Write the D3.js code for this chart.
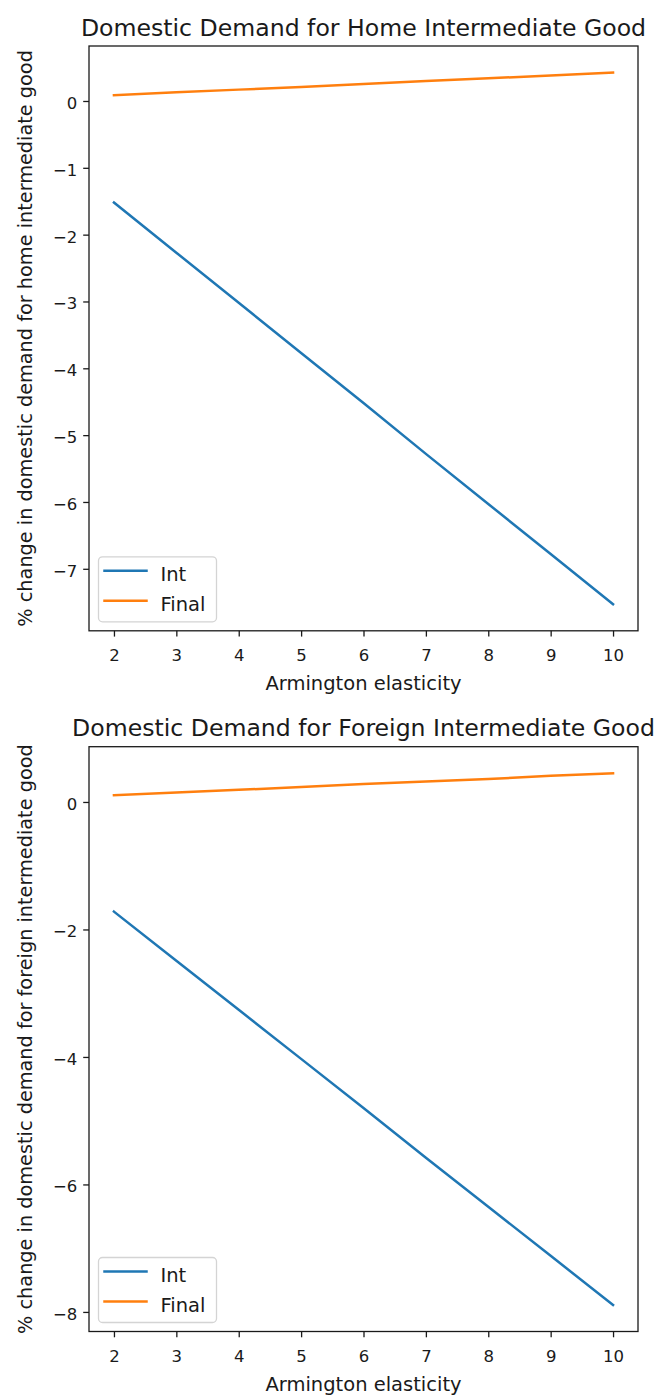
<!DOCTYPE html>
<html>
<head>
<meta charset="utf-8">
<script src="https://cdn.jsdelivr.net/npm/d3@7"></script>
<style>
  html, body { margin: 0; padding: 0; background: #fff; }
  svg { display: block; }
  text { font-family: "DejaVu Sans", sans-serif; fill: #1a1a1a; }
</style>
</head>
<body>
<svg id="fig" width="657" height="1396"></svg>
<script>
// Armington elasticity values on the horizontal axis
const elasticity = [2, 3, 4, 5, 6, 7, 8, 9, 10];

// % change in domestic demand for the home intermediate good
const homeInt   = [-1.52, -2.27, -3.02, -3.77, -4.52, -5.28, -6.03, -6.78, -7.53];
const homeFinal = [0.085, 0.13, 0.17, 0.21, 0.255, 0.30, 0.34, 0.38, 0.425];

// % change in domestic demand for the foreign intermediate good
const foreignInt   = [-1.72, -2.49, -3.26, -4.03, -4.80, -5.58, -6.35, -7.12, -7.89];
const foreignFinal = [0.106, 0.15, 0.19, 0.235, 0.28, 0.32, 0.36, 0.41, 0.45];

// tick labels
const xTicks = [2, 3, 4, 5, 6, 7, 8, 9, 10];
const homeYTicks = [-7, -6, -5, -4, -3, -2, -1, 0];
const foreignYTicks = [-8, -6, -4, -2, 0];

const seriesNames = ["Int", "Final"];
const seriesColors = ["#1f77b4", "#ff7f0e"];

const svg = d3.select("#fig");
svg.append("rect").attr("width", 657).attr("height", 1396).attr("fill", "#fff");

// 5% padding on each side of the data range, as an autoscaled axis would have
function padded(lo, hi) {
  const m = (hi - lo) * 0.05;
  return [lo - m, hi + m];
}

function drawPanel(opts) {
  const left = 89, right = 638;
  const top = opts.top, bottom = opts.top + 584.8;
  const g = svg.append("g");

  const x = d3.scaleLinear()
    .domain(padded(d3.min(elasticity), d3.max(elasticity)))
    .range([left, right]);
  const allY = opts.series.flat();
  const y = d3.scaleLinear()
    .domain(padded(d3.min(allY), d3.max(allY)))
    .range([bottom, top]);

  // x axis ticks and labels
  const xa = g.append("g").attr("transform", `translate(0,${bottom})`)
    .call(d3.axisBottom(x).tickValues(xTicks).tickFormat(d3.format("d"))
      .tickSize(5.8).tickPadding(5.8));
  xa.select(".domain").remove();
  xa.selectAll(".tick line").attr("stroke", "#1a1a1a").attr("stroke-width", 1.3);
  xa.selectAll(".tick text").attr("font-size", 16.5).attr("fill", "#1a1a1a")
    .attr("dy", null).attr("y", 30.5);

  // y axis ticks and labels
  const ya = g.append("g").attr("transform", `translate(${left},0)`)
    .call(d3.axisLeft(y).tickValues(opts.yTicks).tickFormat(d3.format("d"))
      .tickSize(5.8).tickPadding(5.8));
  ya.select(".domain").remove();
  ya.selectAll(".tick line").attr("stroke", "#1a1a1a").attr("stroke-width", 1.3);
  ya.selectAll(".tick text").attr("font-size", 16.5).attr("fill", "#1a1a1a")
    .attr("dy", null).attr("y", 7.5).attr("x", -11.8);

  // data lines
  const line = d3.line().x((d, i) => x(elasticity[i])).y(d => y(d));
  opts.series.forEach((vals, k) => {
    g.append("path")
      .datum(vals)
      .attr("d", line)
      .attr("fill", "none")
      .attr("stroke", seriesColors[k])
      .attr("stroke-width", 2.5)
      .attr("stroke-linecap", "square");
  });

  // frame
  g.append("rect")
    .attr("x", left).attr("y", top)
    .attr("width", right - left).attr("height", bottom - top)
    .attr("fill", "none").attr("stroke", "#1a1a1a").attr("stroke-width", 1.3);

  // title
  g.append("text")
    .attr("x", (left + right) / 2).attr("y", top - 10.5)
    .attr("text-anchor", "middle").attr("font-size", 23.6)
    .text(opts.title);

  // axis labels
  g.append("text")
    .attr("x", (left + right) / 2).attr("y", bottom + 59.5)
    .attr("text-anchor", "middle").attr("font-size", 19.5)
    .text("Armington elasticity");
  g.append("text")
    .attr("transform", `translate(31.5,${(top + bottom) / 2}) rotate(-90)`)
    .attr("text-anchor", "middle").attr("font-size", 19.3)
    .text(opts.yLabel);

  // legend, lower left
  const lx = left + 9.5, lw = 118, lh = 65;
  const ly = bottom - 9 - lh;
  const leg = g.append("g");
  leg.append("rect")
    .attr("x", lx).attr("y", ly).attr("width", lw).attr("height", lh)
    .attr("rx", 4).attr("ry", 4)
    .attr("fill", "#fff").attr("fill-opacity", 0.8)
    .attr("stroke", "#d4d4d4").attr("stroke-width", 1.3);
  seriesNames.forEach((name, k) => {
    const yy = ly + 14 + k * 30;
    leg.append("line")
      .attr("x1", lx + 6).attr("x2", lx + 48)
      .attr("y1", yy).attr("y2", yy)
      .attr("stroke", seriesColors[k]).attr("stroke-width", 2.5)
      .attr("stroke-linecap", "square");
    leg.append("text")
      .attr("x", lx + 62).attr("y", yy + 10)
      .attr("font-size", 19.5)
      .text(name);
  });
}

drawPanel({
  top: 46,
  series: [homeInt, homeFinal],
  yTicks: homeYTicks,
  title: "Domestic Demand for Home Intermediate Good",
  yLabel: "% change in domestic demand for home intermediate good"
});

drawPanel({
  top: 746.7,
  series: [foreignInt, foreignFinal],
  yTicks: foreignYTicks,
  title: "Domestic Demand for Foreign Intermediate Good",
  yLabel: "% change in domestic demand for foreign intermediate good"
});
</script>
</body>
</html>
